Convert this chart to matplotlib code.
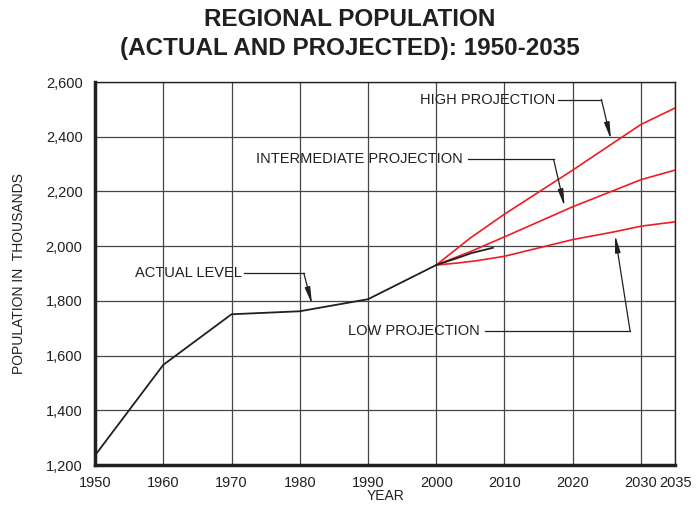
import matplotlib
matplotlib.use("Agg")
import matplotlib.pyplot as plt

plt.rcParams['font.family'] = ['Liberation Sans', 'DejaVu Sans']

# Data
actual_years = [1950, 1960, 1970, 1980, 1990, 2000, 2003.5, 2005.2, 2008.3]
actual_vals = [1235, 1566, 1751, 1762, 1806, 1931, 1960, 1975, 1994]

high_years = [2000, 2005, 2010, 2020, 2030, 2035]
high_vals = [1931, 2030, 2117, 2278, 2445, 2505]

inter_years = [2000, 2005, 2010, 2020, 2030, 2035]
inter_vals = [1931, 1980, 2034, 2144, 2243, 2278]

low_years = [2000, 2003, 2006, 2010, 2020, 2026, 2030, 2035]
low_vals = [1931, 1938, 1947, 1963, 2024, 2052, 2073, 2089]

x_ticks = [1950, 1960, 1970, 1980, 1990, 2000, 2010, 2020, 2030, 2035]
y_ticks = [1200, 1400, 1600, 1800, 2000, 2200, 2400, 2600]

fig = plt.figure(figsize=(6.96, 5.05), dpi=100)
ax = fig.add_axes([0.1365, 0.0792, 0.8335, 0.7584])

red = '#ee1c24'
ink = '#231f20'
ax.plot(high_years, high_vals, color=red, lw=1.2, zorder=3)
ax.plot(inter_years, inter_vals, color=red, lw=1.2, zorder=3)
ax.plot(low_years, low_vals, color=red, lw=1.2, zorder=3)
ax.plot(actual_years, actual_vals, color=ink, lw=1.3, zorder=4)

ax.set_xlim(1950, 2035)
ax.set_ylim(1200, 2600)
ax.set_xticks(x_ticks)
ax.set_xticklabels([str(t) for t in x_ticks], fontsize=10.5)
ax.set_yticks(y_ticks)
ax.set_yticklabels([f"{t:,}" for t in y_ticks], fontsize=10.5)
ax.tick_params(axis='y', length=0, pad=9, colors=ink)
ax.tick_params(axis='x', length=0, pad=8, colors=ink)
ax.grid(True, color='#454545', lw=0.9)
ax.set_axisbelow(True)
for s in ['left', 'bottom']:
    ax.spines[s].set_linewidth(2.5)
    ax.spines[s].set_color(ink)
for s in ['top', 'right']:
    ax.spines[s].set_linewidth(1.0)
    ax.spines[s].set_color(ink)

ax.set_xlabel('YEAR', fontsize=10, labelpad=-1, color=ink)
ax.set_ylabel('POPULATION IN  THOUSANDS', fontsize=10, labelpad=14, color=ink)

fig.text(0.503, 0.962, 'REGIONAL POPULATION', ha='center', va='center',
         fontsize=17.5, fontweight='bold', color=ink)
fig.text(0.503, 0.904, '(ACTUAL AND PROJECTED): 1950-2035', ha='center', va='center',
         fontsize=17.5, fontweight='bold', color=ink)

def callout(text, tx, ty, ha, line_pts, tip):
    ax.text(tx, ty, text, ha=ha, va='center', fontsize=10.5, color=ink, zorder=6)
    xs = [p[0] for p in line_pts]
    ys = [p[1] for p in line_pts]
    ax.plot(xs, ys, color=ink, lw=0.9, zorder=5, clip_on=False)
    ax.annotate('', xy=tip, xytext=line_pts[-1],
                arrowprops=dict(arrowstyle='-|>,head_length=1.0,head_width=0.16',
                                color=ink, lw=0.9, shrinkA=0, shrinkB=0),
                zorder=5)

callout('HIGH PROJECTION', 1997.6, 2536, 'left',
        [(2017.8, 2536), (2024.2, 2536)], (2025.6, 2390))
callout('INTERMEDIATE PROJECTION', 2003.9, 2317, 'right',
        [(2004.6, 2317), (2017.2, 2317)], (2018.8, 2145))
callout('ACTUAL LEVEL', 1955.9, 1901, 'left',
        [(1971.8, 1901), (1980.6, 1901)], (1981.8, 1787))
callout('LOW PROJECTION', 1987.0, 1690, 'left',
        [(2007.1, 1690), (2028.4, 1690)], (2026.2, 2040))

fig.savefig('out.png', dpi=100)
